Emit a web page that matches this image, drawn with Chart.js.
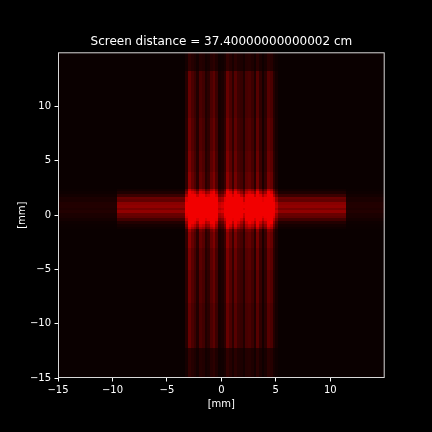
<!DOCTYPE html>
<html>
<head>
<meta charset="utf-8">
<script src="https://cdn.jsdelivr.net/npm/chart.js@4.4.0/dist/chart.umd.min.js"></script>
<style>
  html, body { margin: 0; padding: 0; background: #000; }
  #wrap { width: 432px; height: 432px; }
</style>
</head>
<body>
<div id="wrap"><canvas id="screen" width="432" height="432"></canvas></div>
<script>
// Screen pattern (both axes in mm)
const titleText = 'Screen distance = 37.40000000000002 cm';
const tickVals = [-15, -10, -5, 0, 5, 10];

// vertical fringes: 0.25 mm columns starting at colStart, relative strength
const colStart = -3.25;
const colStep = 0.25;
const colVals = [0.25, 0.85, 0.6, 0.45, 0.2, 0.6, 0.5, 0.2, 0.3, 0.6, 0.75, 0.45, 0.1, 0.15, 0.3, 0.85, 0.6,
  0.3, 0.7, 0.45, 0.4, 0.2, 0.55, 0.6, 0.45, 0.2, 0.7, 0.35, 0.1, 0.3, 0.7, 0.6, 0.25, 0.1];
// how strong the vertical fringes are along y (band edges in mm, factor)
const vEnvEdges = [-15, -12.2, -8, -5, -3, -1.5, 2.5, 4, 6, 9, 13.3, 15];
const vEnvVals = [0.35, 0.85, 0.95, 1.05, 1.2, 1.4, 1.2, 1.05, 0.95, 0.85, 0.35];

// horizontal fringes: 0.25 mm rows starting at rowStart
const rowStart = -1.25;
const rowStep = 0.25;
const rowVals = [0.03, 0.07, 0.15, 0.35, 0.55, 0.6, 0.85, 0.7, 0.85, 0.8, 0.55, 0.6, 0.3, 0.12, 0.04];
// how far the horizontal fringes reach, and what is left outside
const hReach = [-9.5, 11.5];
const hOutside = 0.18;

// bright patches where both fringe families cross (same columns / rows)
const blobCols = [0.6, 0.9, 1, 1, 0.95, 1, 1, 0.95, 0.95, 1, 0.9, 0.7, 0.3, 0.35, 0.6, 1, 1,
  0.9, 1, 0.9, 0.6, 0.45, 0.7, 0.9, 0.95, 0.9, 1, 0.95, 0.85, 0.9, 1, 0.9, 0.6, 0.25];
const blobRows = [0.4, 0.6, 0.8, 0.9, 0.95, 1, 1, 1, 1, 1, 0.95, 0.9, 0.8, 0.6, 0.3];

// strength of each part on the red scale
const base = 0.04;
const vGain = 0.5;
const hGain = 0.62;
const blobGain = 0.55;

function lookup(start, step, vals, v) {
  const i = Math.floor((v - start) / step);
  return (i >= 0 && i < vals.length) ? vals[i] : 0;
}
function band(edges, vals, v) {
  for (let i = 0; i < vals.length; i++) if (v >= edges[i] && v < edges[i + 1]) return vals[i];
  return vals[vals.length - 1];
}

// build the grid of cells from the profiles
const xEdges = [-15, 15, hReach[0], hReach[1]];
colVals.forEach((_, i) => xEdges.push(colStart + i * colStep));
xEdges.push(colStart + colVals.length * colStep);
const yEdges = vEnvEdges.slice();
rowVals.forEach((_, i) => yEdges.push(rowStart + i * rowStep));
yEdges.push(rowStart + rowVals.length * rowStep);
const uniq = a => Array.from(new Set(a.map(v => +v.toFixed(4)))).sort((p, q) => p - q);
const xs = uniq(xEdges), ys = uniq(yEdges);

const cells = [];
for (let i = 0; i < xs.length - 1; i++) {
  const mx = (xs[i] + xs[i + 1]) / 2;
  const V = lookup(colStart, colStep, colVals, mx);
  const BC = lookup(colStart, colStep, blobCols, mx);
  const he = (mx >= hReach[0] && mx <= hReach[1]) ? 1 : hOutside;
  for (let j = 0; j < ys.length - 1; j++) {
    const my = (ys[j] + ys[j + 1]) / 2;
    const H = lookup(rowStart, rowStep, rowVals, my);
    const BR = lookup(rowStart, rowStep, blobRows, my);
    const ve = band(vEnvEdges, vEnvVals, my);
    const v = base + vGain * V * ve + hGain * H * he + blobGain * BC * BR;
    cells.push({ x: mx, y: my, x0: xs[i], x1: xs[i + 1], y0: ys[j], y1: ys[j + 1], v: Math.min(0.95, v) });
  }
}

const heatmap = {
  id: 'heatmap',
  beforeDraw(chart) {
    const c = chart.ctx;
    c.save();
    c.fillStyle = '#000';
    c.fillRect(0, 0, chart.width, chart.height);
    c.restore();
  },
  beforeDatasetsDraw(chart) {
    const { ctx, chartArea, scales } = chart;
    ctx.save();
    ctx.beginPath();
    ctx.rect(chartArea.left, chartArea.top, chartArea.right - chartArea.left, chartArea.bottom - chartArea.top);
    ctx.clip();
    chart.data.datasets[0].data.forEach(d => {
      const l = Math.floor(scales.x.getPixelForValue(d.x0));
      const r = Math.ceil(scales.x.getPixelForValue(d.x1));
      const t = Math.floor(scales.y.getPixelForValue(d.y1));
      const b = Math.ceil(scales.y.getPixelForValue(d.y0));
      ctx.fillStyle = 'rgb(' + Math.round(255 * d.v) + ',0,0)';
      ctx.fillRect(l, t, r - l, b - t);
    });
    ctx.restore();
  },
  afterDraw(chart) {
    const { ctx, chartArea } = chart;
    ctx.save();
    ctx.strokeStyle = '#d8d8d8';
    ctx.lineWidth = 1;
    ctx.strokeRect(chartArea.left + 0.5, chartArea.top + 0.5,
      chartArea.right - chartArea.left - 1, chartArea.bottom - chartArea.top - 1);
    ctx.restore();
  }
};

const fmt = v => (v < 0 ? '\u2212' + Math.abs(v) : '' + v);

Chart.defaults.font.family = '"DejaVu Sans", sans-serif';
Chart.defaults.color = '#ffffff';

new Chart(document.getElementById('screen'), {
  type: 'scatter',
  data: { datasets: [{ data: cells, pointRadius: 0, pointHoverRadius: 0 }] },
  options: {
    responsive: false,
    devicePixelRatio: 1,
    animation: false,
    events: [],
    layout: { padding: { left: 0, right: 47.3, top: 0, bottom: 0 } },
    plugins: {
      legend: { display: false },
      tooltip: { enabled: false },
      title: {
        display: true,
        text: titleText,
        fullSize: false,
        color: '#ffffff',
        font: { size: 12, weight: 'normal' },
        padding: { top: 34.3, bottom: 3.6 }
      }
    },
    scales: {
      x: {
        type: 'linear', min: -15, max: 15,
        afterBuildTicks: s => { s.ticks = tickVals.map(v => ({ value: v })); },
        afterFit: s => { s.height = 54; },
        border: { display: false },
        grid: { drawOnChartArea: false, drawTicks: true, tickLength: 3.5, tickColor: '#ffffff', tickWidth: 1 },
        ticks: { padding: 3, font: { size: 10 }, color: '#ffffff', callback: fmt, maxRotation: 0 },
        title: { display: true, text: '[mm]', color: '#ffffff', font: { size: 10 }, padding: { top: 0, bottom: 22 } }
      },
      y: {
        type: 'linear', min: -15, max: 15,
        afterBuildTicks: s => { s.ticks = tickVals.map(v => ({ value: v })); },
        afterFit: s => { s.width = 58; },
        border: { display: false },
        grid: { drawOnChartArea: false, drawTicks: true, tickLength: 3.5, tickColor: '#ffffff', tickWidth: 1 },
        ticks: { padding: 3.5, font: { size: 10 }, color: '#ffffff', callback: fmt },
        title: { display: true, text: '[mm]', color: '#ffffff', font: { size: 10 }, padding: { top: 16, bottom: 0 } }
      }
    }
  },
  plugins: [heatmap]
});
</script>
</body>
</html>
